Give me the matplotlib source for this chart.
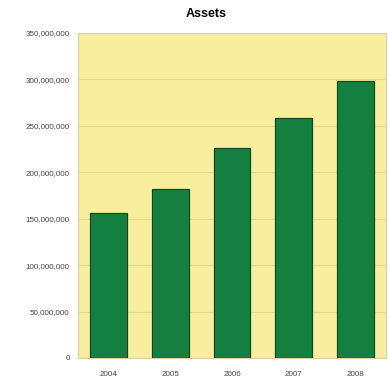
import matplotlib
matplotlib.use('Agg')
import matplotlib.pyplot as plt
from matplotlib.ticker import FuncFormatter

years = ['2004', '2005', '2006', '2007', '2008']
assets = [156_000_000, 182_000_000, 226_000_000, 259_000_000, 298_000_000]
y_ticks = [0, 50_000_000, 100_000_000, 150_000_000, 200_000_000,
           250_000_000, 300_000_000, 350_000_000]

plt.rcParams['font.family'] = ['Liberation Sans', 'DejaVu Sans']

fig = plt.figure(figsize=(3.88, 3.79), dpi=100)
ax = fig.add_axes([78 / 388, 1 - 358 / 379, 308 / 388, 325 / 379])
ax.set_facecolor('#f8ee9e')

ax.bar(range(len(years)), assets, width=0.6, color='#148040',
       edgecolor='#0e4a22', linewidth=0.9, zorder=3)

ax.set_xlim(-0.5, len(years) - 0.5)
ax.set_ylim(0, 350_000_000)
ax.set_yticks(y_ticks)
ax.yaxis.set_major_formatter(FuncFormatter(lambda v, p: f'{int(v):,}'))
ax.set_xticks(range(len(years)))
ax.set_xticklabels(years)
ax.tick_params(axis='both', length=0, labelsize=5.8, colors='#444444')
ax.tick_params(axis='y', pad=6)
ax.tick_params(axis='x', pad=9)

ax.grid(axis='y', color='#e6d98a', linewidth=0.8, zorder=0)
for side in ax.spines.values():
    side.set_color('#d8d0a8')
    side.set_linewidth(0.8)

fig.text(206 / 388, 1 - 14 / 379, 'Assets', ha='center', va='center',
         fontsize=9, fontweight='bold')

fig.savefig('out.png', dpi=100)
